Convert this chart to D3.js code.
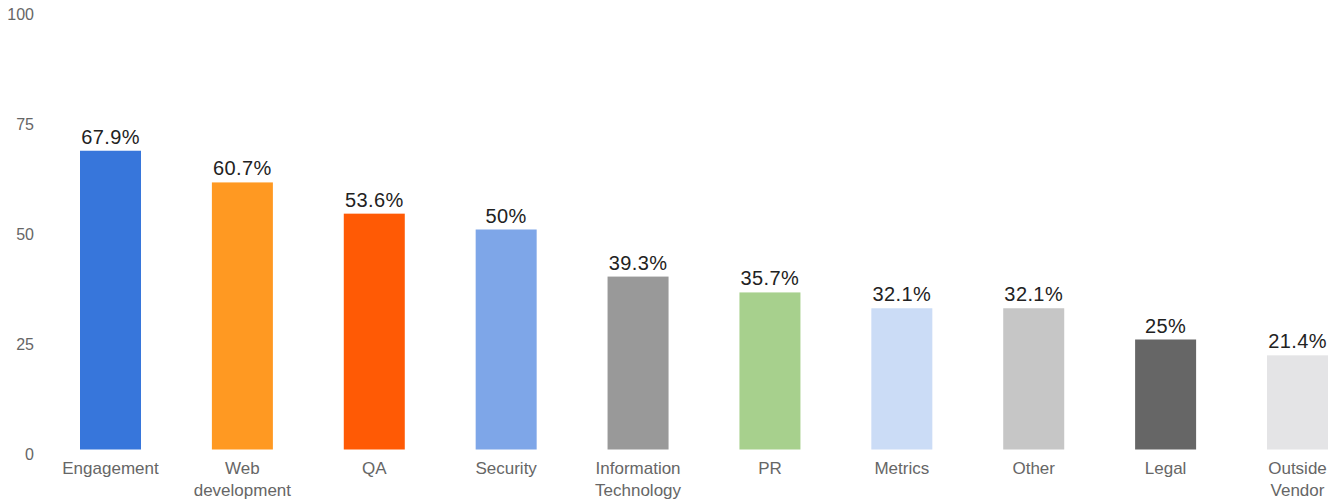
<!DOCTYPE html>
<html lang="en">
<head>
  <meta charset="UTF-8">
  <title>Bar Chart</title>
  <script src="https://d3js.org/d3.v7.min.js"></script>
  <style>
    body { margin: 0; background: #fff; }
    svg { font-family: "Liberation Sans", Arial, sans-serif; }
    .axis text { font-size: 16px; fill: #666; }
    .cat { font-size: 17px; fill: #666; }
    .val { font-size: 20px; fill: #222; letter-spacing: 0.4px; }
  </style>
</head>
<body>
  <div id="chart"></div>

  <script>
    const categories = ["Engagement", "Web development", "QA", "Security", "Information Technology",
                        "PR", "Metrics", "Other", "Legal", "Outside Vendor"];
    const values = [67.9, 60.7, 53.6, 50, 39.3, 35.7, 32.1, 32.1, 25, 21.4];
    const colors = ["#3776db", "#ff9922", "#ff5a05", "#7ea6e8", "#999999",
                    "#a7d08d", "#cbdcf6", "#c6c6c6", "#666666", "#e4e4e6"];
    const yTicks = [0, 25, 50, 75, 100];

    const width = 1342, height = 503;

    const svg = d3.select("#chart")
      .append("svg")
      .attr("width", width)
      .attr("height", height);

    const x = d3.scaleBand()
      .domain(categories)
      .range([80, 1328])
      .paddingInner(0.5375)
      .paddingOuter(0);

    const y = d3.scaleLinear()
      .domain([0, 100])
      .range([449.5, 9.5]);

    // y axis labels only, no lines
    svg.append("g")
      .attr("class", "axis")
      .selectAll("text")
      .data(yTicks)
      .enter()
      .append("text")
      .attr("x", 34)
      .attr("y", d => y(d) + 10)
      .attr("text-anchor", "end")
      .text(d => d);

    svg.selectAll(".bar")
      .data(values)
      .enter()
      .append("rect")
      .attr("class", "bar")
      .attr("x", (d, i) => x(categories[i]))
      .attr("y", d => y(d))
      .attr("width", x.bandwidth())
      .attr("height", d => y(0) - y(d))
      .attr("fill", (d, i) => colors[i]);

    svg.selectAll(".val")
      .data(values)
      .enter()
      .append("text")
      .attr("class", "val")
      .attr("x", (d, i) => x(categories[i]) + x.bandwidth() / 2)
      .attr("y", d => y(d) - 7)
      .attr("text-anchor", "middle")
      .text(d => d + "%");

    const cat = svg.selectAll(".cat")
      .data(categories)
      .enter()
      .append("text")
      .attr("class", "cat")
      .attr("text-anchor", "middle")
      .attr("y", 474);

    cat.selectAll("tspan")
      .data(d => d.split(" ").map(w => ({ w, c: d })))
      .enter()
      .append("tspan")
      .attr("x", d => x(d.c) + x.bandwidth() / 2)
      .attr("dy", (d, i) => i === 0 ? 0 : 22)
      .text(d => d.w);
  </script>
</body>
</html>
